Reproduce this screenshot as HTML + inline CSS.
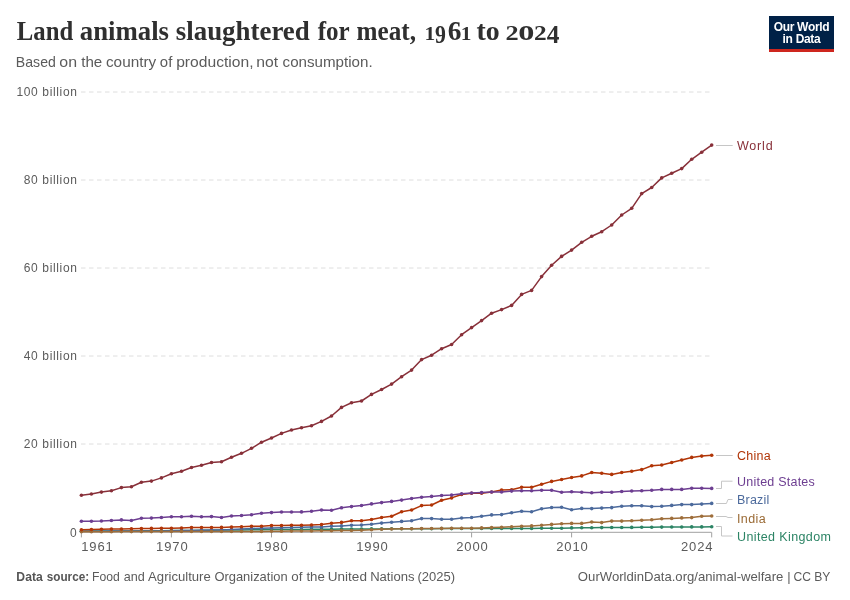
<!DOCTYPE html>
<html><head><meta charset="utf-8">
<style>
html,body{margin:0;padding:0;background:#fff;}
body{width:850px;height:600px;position:relative;overflow:hidden;font-family:"Liberation Sans",sans-serif;}
.title{will-change:transform;position:absolute;left:17px;top:18.5px;font-family:"Liberation Serif",serif;font-weight:bold;font-size:26.1px;color:#2f2f2f;white-space:nowrap;line-height:1;}
.sub{will-change:transform;position:absolute;left:16px;top:54px;font-size:14px;letter-spacing:0.48px;color:#5b5b5b;white-space:nowrap;line-height:1;}
.logo{will-change:transform;position:absolute;left:769px;top:16px;width:65px;height:36px;background:#002147;}
.logo .bar{position:absolute;left:0;bottom:0;width:65px;height:3px;background:#ce261e;}
.logo .t{position:absolute;left:0;width:65px;text-align:center;color:#fff;font-weight:bold;font-size:12px;line-height:1;letter-spacing:-0.3px;}
.foot{will-change:transform;position:absolute;top:570.6px;font-size:12.5px;letter-spacing:0.23px;color:#5b5b5b;white-space:nowrap;line-height:1;}
</style></head><body>
<div class="logo"><div class="t" style="top:5.3px">Our World</div><div class="t" style="top:17.1px">in Data</div><div class="bar"></div></div>
<svg width="850" height="600" viewBox="0 0 850 600" style="position:absolute;left:0;top:0;will-change:transform">
<line x1="81" x2="711" y1="92" y2="92" stroke="#dedede" stroke-width="1" stroke-dasharray="4.5,3.5"/>
<line x1="81" x2="711" y1="180" y2="180" stroke="#dedede" stroke-width="1" stroke-dasharray="4.5,3.5"/>
<line x1="81" x2="711" y1="268" y2="268" stroke="#dedede" stroke-width="1" stroke-dasharray="4.5,3.5"/>
<line x1="81" x2="711" y1="356" y2="356" stroke="#dedede" stroke-width="1" stroke-dasharray="4.5,3.5"/>
<line x1="81" x2="711" y1="444" y2="444" stroke="#dedede" stroke-width="1" stroke-dasharray="4.5,3.5"/>
<g font-family="Liberation Sans, sans-serif" font-size="12" fill="#5b5b5b" text-anchor="end">
<text x="77.6" y="96.0" style="letter-spacing:0.65px">100 billion</text>
<text x="77.6" y="184.0" style="letter-spacing:0.65px">80 billion</text>
<text x="77.6" y="272.0" style="letter-spacing:0.65px">60 billion</text>
<text x="77.6" y="360.0" style="letter-spacing:0.65px">40 billion</text>
<text x="77.6" y="448.0" style="letter-spacing:0.65px">20 billion</text>
<text x="76.6" y="536.8">0</text>
</g>
<line x1="81" x2="711.5" y1="532.3" y2="532.3" stroke="#a1a1a1" stroke-width="1"/>
<line x1="81.4" x2="81.4" y1="532.3" y2="537.4" stroke="#a1a1a1" stroke-width="1"/>
<line x1="171.4" x2="171.4" y1="532.3" y2="537.4" stroke="#a1a1a1" stroke-width="1"/>
<line x1="271.5" x2="271.5" y1="532.3" y2="537.4" stroke="#a1a1a1" stroke-width="1"/>
<line x1="371.5" x2="371.5" y1="532.3" y2="537.4" stroke="#a1a1a1" stroke-width="1"/>
<line x1="471.6" x2="471.6" y1="532.3" y2="537.4" stroke="#a1a1a1" stroke-width="1"/>
<line x1="571.6" x2="571.6" y1="532.3" y2="537.4" stroke="#a1a1a1" stroke-width="1"/>
<line x1="711.7" x2="711.7" y1="532.3" y2="537.4" stroke="#a1a1a1" stroke-width="1"/>
<g font-family="Liberation Sans, sans-serif" font-size="13" fill="#5b5b5b" style="letter-spacing:0.9px">
<text x="81.2" y="550.7">1961</text>
<text x="172.3" y="550.7" text-anchor="middle">1970</text>
<text x="272.4" y="550.7" text-anchor="middle">1980</text>
<text x="372.4" y="550.7" text-anchor="middle">1990</text>
<text x="472.5" y="550.7" text-anchor="middle">2000</text>
<text x="572.5" y="550.7" text-anchor="middle">2010</text>
<text x="713.5" y="550.7" text-anchor="end">2024</text>
</g>
<path d="M81.4,531.2L91.4,531.1L101.4,531.1L111.4,531.0L121.4,530.9L131.4,530.9L141.4,530.8L151.4,530.7L161.4,530.7L171.4,530.6L181.5,530.5L191.5,530.4L201.5,530.3L211.5,530.2L221.5,530.1L231.5,530.0L241.5,529.9L251.5,529.8L261.5,529.7L271.5,529.6L281.5,529.5L291.5,529.5L301.5,529.4L311.5,529.3L321.5,529.2L331.5,529.2L341.5,529.1L351.5,529.0L361.5,529.0L371.5,528.9L381.6,528.9L391.6,528.8L401.6,528.8L411.6,528.7L421.6,528.7L431.6,528.7L441.6,528.6L451.6,528.6L461.6,528.5L471.6,528.5L481.6,528.5L491.6,528.5L501.6,528.4L511.6,528.4L521.6,528.4L531.6,528.4L541.6,528.3L551.6,528.3L561.6,528.3L571.6,527.9L581.7,527.8L591.7,527.7L601.7,527.6L611.7,527.5L621.7,527.5L631.7,527.4L641.7,527.3L651.7,527.2L661.7,527.1L671.7,527.0L681.7,527.0L691.7,526.9L701.7,526.9L711.7,526.8" fill="none" stroke="#2c8465" stroke-width="1.5" stroke-linejoin="round"/>
<g fill="#2c8465"><circle cx="81.4" cy="531.2" r="1.8"/><circle cx="91.4" cy="531.1" r="1.8"/><circle cx="101.4" cy="531.1" r="1.8"/><circle cx="111.4" cy="531.0" r="1.8"/><circle cx="121.4" cy="530.9" r="1.8"/><circle cx="131.4" cy="530.9" r="1.8"/><circle cx="141.4" cy="530.8" r="1.8"/><circle cx="151.4" cy="530.7" r="1.8"/><circle cx="161.4" cy="530.7" r="1.8"/><circle cx="171.4" cy="530.6" r="1.8"/><circle cx="181.5" cy="530.5" r="1.8"/><circle cx="191.5" cy="530.4" r="1.8"/><circle cx="201.5" cy="530.3" r="1.8"/><circle cx="211.5" cy="530.2" r="1.8"/><circle cx="221.5" cy="530.1" r="1.8"/><circle cx="231.5" cy="530.0" r="1.8"/><circle cx="241.5" cy="529.9" r="1.8"/><circle cx="251.5" cy="529.8" r="1.8"/><circle cx="261.5" cy="529.7" r="1.8"/><circle cx="271.5" cy="529.6" r="1.8"/><circle cx="281.5" cy="529.5" r="1.8"/><circle cx="291.5" cy="529.5" r="1.8"/><circle cx="301.5" cy="529.4" r="1.8"/><circle cx="311.5" cy="529.3" r="1.8"/><circle cx="321.5" cy="529.2" r="1.8"/><circle cx="331.5" cy="529.2" r="1.8"/><circle cx="341.5" cy="529.1" r="1.8"/><circle cx="351.5" cy="529.0" r="1.8"/><circle cx="361.5" cy="529.0" r="1.8"/><circle cx="371.5" cy="528.9" r="1.8"/><circle cx="381.6" cy="528.9" r="1.8"/><circle cx="391.6" cy="528.8" r="1.8"/><circle cx="401.6" cy="528.8" r="1.8"/><circle cx="411.6" cy="528.7" r="1.8"/><circle cx="421.6" cy="528.7" r="1.8"/><circle cx="431.6" cy="528.7" r="1.8"/><circle cx="441.6" cy="528.6" r="1.8"/><circle cx="451.6" cy="528.6" r="1.8"/><circle cx="461.6" cy="528.5" r="1.8"/><circle cx="471.6" cy="528.5" r="1.8"/><circle cx="481.6" cy="528.5" r="1.8"/><circle cx="491.6" cy="528.5" r="1.8"/><circle cx="501.6" cy="528.4" r="1.8"/><circle cx="511.6" cy="528.4" r="1.8"/><circle cx="521.6" cy="528.4" r="1.8"/><circle cx="531.6" cy="528.4" r="1.8"/><circle cx="541.6" cy="528.3" r="1.8"/><circle cx="551.6" cy="528.3" r="1.8"/><circle cx="561.6" cy="528.3" r="1.8"/><circle cx="571.6" cy="527.9" r="1.8"/><circle cx="581.7" cy="527.8" r="1.8"/><circle cx="591.7" cy="527.7" r="1.8"/><circle cx="601.7" cy="527.6" r="1.8"/><circle cx="611.7" cy="527.5" r="1.8"/><circle cx="621.7" cy="527.5" r="1.8"/><circle cx="631.7" cy="527.4" r="1.8"/><circle cx="641.7" cy="527.3" r="1.8"/><circle cx="651.7" cy="527.2" r="1.8"/><circle cx="661.7" cy="527.1" r="1.8"/><circle cx="671.7" cy="527.0" r="1.8"/><circle cx="681.7" cy="527.0" r="1.8"/><circle cx="691.7" cy="526.9" r="1.8"/><circle cx="701.7" cy="526.9" r="1.8"/><circle cx="711.7" cy="526.8" r="1.8"/></g>
<path d="M81.4,531.3L91.4,531.2L101.4,531.2L111.4,531.1L121.4,531.1L131.4,531.0L141.4,531.0L151.4,530.9L161.4,530.9L171.4,530.8L181.5,530.6L191.5,530.4L201.5,530.3L211.5,530.1L221.5,529.9L231.5,529.4L241.5,529.0L251.5,528.5L261.5,528.2L271.5,528.0L281.5,527.8L291.5,527.6L301.5,527.3L311.5,527.1L321.5,527.0L331.5,526.3L341.5,525.9L351.5,525.3L361.5,525.1L371.5,524.3L381.6,523.1L391.6,522.3L401.6,521.4L411.6,520.8L421.6,518.6L431.6,518.6L441.6,519.2L451.6,519.2L461.6,518.0L471.6,517.5L481.6,516.3L491.6,514.9L501.6,514.6L511.6,512.7L521.6,511.2L531.6,511.7L541.6,508.8L551.6,507.5L561.6,507.3L571.6,509.7L581.7,508.4L591.7,508.6L601.7,508.1L611.7,507.6L621.7,506.2L631.7,505.7L641.7,505.7L651.7,506.6L661.7,506.2L671.7,505.4L681.7,504.6L691.7,504.6L701.7,504.1L711.7,503.4" fill="none" stroke="#4c6a9c" stroke-width="1.5" stroke-linejoin="round"/>
<g fill="#4c6a9c"><circle cx="81.4" cy="531.3" r="1.8"/><circle cx="91.4" cy="531.2" r="1.8"/><circle cx="101.4" cy="531.2" r="1.8"/><circle cx="111.4" cy="531.1" r="1.8"/><circle cx="121.4" cy="531.1" r="1.8"/><circle cx="131.4" cy="531.0" r="1.8"/><circle cx="141.4" cy="531.0" r="1.8"/><circle cx="151.4" cy="530.9" r="1.8"/><circle cx="161.4" cy="530.9" r="1.8"/><circle cx="171.4" cy="530.8" r="1.8"/><circle cx="181.5" cy="530.6" r="1.8"/><circle cx="191.5" cy="530.4" r="1.8"/><circle cx="201.5" cy="530.3" r="1.8"/><circle cx="211.5" cy="530.1" r="1.8"/><circle cx="221.5" cy="529.9" r="1.8"/><circle cx="231.5" cy="529.4" r="1.8"/><circle cx="241.5" cy="529.0" r="1.8"/><circle cx="251.5" cy="528.5" r="1.8"/><circle cx="261.5" cy="528.2" r="1.8"/><circle cx="271.5" cy="528.0" r="1.8"/><circle cx="281.5" cy="527.8" r="1.8"/><circle cx="291.5" cy="527.6" r="1.8"/><circle cx="301.5" cy="527.3" r="1.8"/><circle cx="311.5" cy="527.1" r="1.8"/><circle cx="321.5" cy="527.0" r="1.8"/><circle cx="331.5" cy="526.3" r="1.8"/><circle cx="341.5" cy="525.9" r="1.8"/><circle cx="351.5" cy="525.3" r="1.8"/><circle cx="361.5" cy="525.1" r="1.8"/><circle cx="371.5" cy="524.3" r="1.8"/><circle cx="381.6" cy="523.1" r="1.8"/><circle cx="391.6" cy="522.3" r="1.8"/><circle cx="401.6" cy="521.4" r="1.8"/><circle cx="411.6" cy="520.8" r="1.8"/><circle cx="421.6" cy="518.6" r="1.8"/><circle cx="431.6" cy="518.6" r="1.8"/><circle cx="441.6" cy="519.2" r="1.8"/><circle cx="451.6" cy="519.2" r="1.8"/><circle cx="461.6" cy="518.0" r="1.8"/><circle cx="471.6" cy="517.5" r="1.8"/><circle cx="481.6" cy="516.3" r="1.8"/><circle cx="491.6" cy="514.9" r="1.8"/><circle cx="501.6" cy="514.6" r="1.8"/><circle cx="511.6" cy="512.7" r="1.8"/><circle cx="521.6" cy="511.2" r="1.8"/><circle cx="531.6" cy="511.7" r="1.8"/><circle cx="541.6" cy="508.8" r="1.8"/><circle cx="551.6" cy="507.5" r="1.8"/><circle cx="561.6" cy="507.3" r="1.8"/><circle cx="571.6" cy="509.7" r="1.8"/><circle cx="581.7" cy="508.4" r="1.8"/><circle cx="591.7" cy="508.6" r="1.8"/><circle cx="601.7" cy="508.1" r="1.8"/><circle cx="611.7" cy="507.6" r="1.8"/><circle cx="621.7" cy="506.2" r="1.8"/><circle cx="631.7" cy="505.7" r="1.8"/><circle cx="641.7" cy="505.7" r="1.8"/><circle cx="651.7" cy="506.6" r="1.8"/><circle cx="661.7" cy="506.2" r="1.8"/><circle cx="671.7" cy="505.4" r="1.8"/><circle cx="681.7" cy="504.6" r="1.8"/><circle cx="691.7" cy="504.6" r="1.8"/><circle cx="701.7" cy="504.1" r="1.8"/><circle cx="711.7" cy="503.4" r="1.8"/></g>
<path d="M81.4,531.7L91.4,531.7L101.4,531.7L111.4,531.7L121.4,531.6L131.4,531.6L141.4,531.6L151.4,531.6L161.4,531.6L171.4,531.5L181.5,531.5L191.5,531.5L201.5,531.5L211.5,531.5L221.5,531.5L231.5,531.5L241.5,531.4L251.5,531.4L261.5,531.4L271.5,531.3L281.5,531.2L291.5,531.1L301.5,531.0L311.5,530.9L321.5,530.8L331.5,530.7L341.5,530.6L351.5,530.5L361.5,530.2L371.5,529.8L381.6,529.2L391.6,529.0L401.6,528.8L411.6,528.7L421.6,528.6L431.6,528.5L441.6,528.4L451.6,528.3L461.6,528.2L471.6,528.2L481.6,527.9L491.6,527.6L501.6,527.2L511.6,526.7L521.6,526.3L531.6,525.9L541.6,525.3L551.6,524.4L561.6,523.8L571.6,523.4L581.7,523.4L591.7,522.0L601.7,522.6L611.7,521.1L621.7,521.1L631.7,520.7L641.7,520.3L651.7,519.8L661.7,518.8L671.7,518.4L681.7,517.9L691.7,517.6L701.7,516.3L711.7,516.0" fill="none" stroke="#9e6e3b" stroke-width="1.5" stroke-linejoin="round"/>
<g fill="#9e6e3b"><circle cx="81.4" cy="531.7" r="1.8"/><circle cx="91.4" cy="531.7" r="1.8"/><circle cx="101.4" cy="531.7" r="1.8"/><circle cx="111.4" cy="531.7" r="1.8"/><circle cx="121.4" cy="531.6" r="1.8"/><circle cx="131.4" cy="531.6" r="1.8"/><circle cx="141.4" cy="531.6" r="1.8"/><circle cx="151.4" cy="531.6" r="1.8"/><circle cx="161.4" cy="531.6" r="1.8"/><circle cx="171.4" cy="531.5" r="1.8"/><circle cx="181.5" cy="531.5" r="1.8"/><circle cx="191.5" cy="531.5" r="1.8"/><circle cx="201.5" cy="531.5" r="1.8"/><circle cx="211.5" cy="531.5" r="1.8"/><circle cx="221.5" cy="531.5" r="1.8"/><circle cx="231.5" cy="531.5" r="1.8"/><circle cx="241.5" cy="531.4" r="1.8"/><circle cx="251.5" cy="531.4" r="1.8"/><circle cx="261.5" cy="531.4" r="1.8"/><circle cx="271.5" cy="531.3" r="1.8"/><circle cx="281.5" cy="531.2" r="1.8"/><circle cx="291.5" cy="531.1" r="1.8"/><circle cx="301.5" cy="531.0" r="1.8"/><circle cx="311.5" cy="530.9" r="1.8"/><circle cx="321.5" cy="530.8" r="1.8"/><circle cx="331.5" cy="530.7" r="1.8"/><circle cx="341.5" cy="530.6" r="1.8"/><circle cx="351.5" cy="530.5" r="1.8"/><circle cx="361.5" cy="530.2" r="1.8"/><circle cx="371.5" cy="529.8" r="1.8"/><circle cx="381.6" cy="529.2" r="1.8"/><circle cx="391.6" cy="529.0" r="1.8"/><circle cx="401.6" cy="528.8" r="1.8"/><circle cx="411.6" cy="528.7" r="1.8"/><circle cx="421.6" cy="528.6" r="1.8"/><circle cx="431.6" cy="528.5" r="1.8"/><circle cx="441.6" cy="528.4" r="1.8"/><circle cx="451.6" cy="528.3" r="1.8"/><circle cx="461.6" cy="528.2" r="1.8"/><circle cx="471.6" cy="528.2" r="1.8"/><circle cx="481.6" cy="527.9" r="1.8"/><circle cx="491.6" cy="527.6" r="1.8"/><circle cx="501.6" cy="527.2" r="1.8"/><circle cx="511.6" cy="526.7" r="1.8"/><circle cx="521.6" cy="526.3" r="1.8"/><circle cx="531.6" cy="525.9" r="1.8"/><circle cx="541.6" cy="525.3" r="1.8"/><circle cx="551.6" cy="524.4" r="1.8"/><circle cx="561.6" cy="523.8" r="1.8"/><circle cx="571.6" cy="523.4" r="1.8"/><circle cx="581.7" cy="523.4" r="1.8"/><circle cx="591.7" cy="522.0" r="1.8"/><circle cx="601.7" cy="522.6" r="1.8"/><circle cx="611.7" cy="521.1" r="1.8"/><circle cx="621.7" cy="521.1" r="1.8"/><circle cx="631.7" cy="520.7" r="1.8"/><circle cx="641.7" cy="520.3" r="1.8"/><circle cx="651.7" cy="519.8" r="1.8"/><circle cx="661.7" cy="518.8" r="1.8"/><circle cx="671.7" cy="518.4" r="1.8"/><circle cx="681.7" cy="517.9" r="1.8"/><circle cx="691.7" cy="517.6" r="1.8"/><circle cx="701.7" cy="516.3" r="1.8"/><circle cx="711.7" cy="516.0" r="1.8"/></g>
<path d="M81.4,529.7L91.4,529.5L101.4,529.3L111.4,529.1L121.4,529.0L131.4,528.8L141.4,528.6L151.4,528.4L161.4,528.3L171.4,528.2L181.5,528.0L191.5,527.6L201.5,527.5L211.5,527.5L221.5,527.4L231.5,527.1L241.5,526.8L251.5,526.3L261.5,526.2L271.5,525.6L281.5,525.6L291.5,525.3L301.5,525.3L311.5,525.0L321.5,524.6L331.5,523.3L341.5,522.4L351.5,520.8L361.5,520.8L371.5,519.5L381.6,517.5L391.6,516.2L401.6,511.7L411.6,510.0L421.6,505.6L431.6,505.0L441.6,500.3L451.6,497.9L461.6,494.5L471.6,493.2L481.6,493.3L491.6,492.0L501.6,490.0L511.6,489.7L521.6,487.2L531.6,487.2L541.6,484.2L551.6,481.4L561.6,479.5L571.6,477.5L581.7,475.9L591.7,472.5L601.7,473.2L611.7,474.4L621.7,472.5L631.7,471.2L641.7,469.6L651.7,465.8L661.7,465.0L671.7,462.5L681.7,460.0L691.7,457.4L701.7,456.1L711.7,455.2" fill="none" stroke="#b13507" stroke-width="1.5" stroke-linejoin="round"/>
<g fill="#b13507"><circle cx="81.4" cy="529.7" r="1.8"/><circle cx="91.4" cy="529.5" r="1.8"/><circle cx="101.4" cy="529.3" r="1.8"/><circle cx="111.4" cy="529.1" r="1.8"/><circle cx="121.4" cy="529.0" r="1.8"/><circle cx="131.4" cy="528.8" r="1.8"/><circle cx="141.4" cy="528.6" r="1.8"/><circle cx="151.4" cy="528.4" r="1.8"/><circle cx="161.4" cy="528.3" r="1.8"/><circle cx="171.4" cy="528.2" r="1.8"/><circle cx="181.5" cy="528.0" r="1.8"/><circle cx="191.5" cy="527.6" r="1.8"/><circle cx="201.5" cy="527.5" r="1.8"/><circle cx="211.5" cy="527.5" r="1.8"/><circle cx="221.5" cy="527.4" r="1.8"/><circle cx="231.5" cy="527.1" r="1.8"/><circle cx="241.5" cy="526.8" r="1.8"/><circle cx="251.5" cy="526.3" r="1.8"/><circle cx="261.5" cy="526.2" r="1.8"/><circle cx="271.5" cy="525.6" r="1.8"/><circle cx="281.5" cy="525.6" r="1.8"/><circle cx="291.5" cy="525.3" r="1.8"/><circle cx="301.5" cy="525.3" r="1.8"/><circle cx="311.5" cy="525.0" r="1.8"/><circle cx="321.5" cy="524.6" r="1.8"/><circle cx="331.5" cy="523.3" r="1.8"/><circle cx="341.5" cy="522.4" r="1.8"/><circle cx="351.5" cy="520.8" r="1.8"/><circle cx="361.5" cy="520.8" r="1.8"/><circle cx="371.5" cy="519.5" r="1.8"/><circle cx="381.6" cy="517.5" r="1.8"/><circle cx="391.6" cy="516.2" r="1.8"/><circle cx="401.6" cy="511.7" r="1.8"/><circle cx="411.6" cy="510.0" r="1.8"/><circle cx="421.6" cy="505.6" r="1.8"/><circle cx="431.6" cy="505.0" r="1.8"/><circle cx="441.6" cy="500.3" r="1.8"/><circle cx="451.6" cy="497.9" r="1.8"/><circle cx="461.6" cy="494.5" r="1.8"/><circle cx="471.6" cy="493.2" r="1.8"/><circle cx="481.6" cy="493.3" r="1.8"/><circle cx="491.6" cy="492.0" r="1.8"/><circle cx="501.6" cy="490.0" r="1.8"/><circle cx="511.6" cy="489.7" r="1.8"/><circle cx="521.6" cy="487.2" r="1.8"/><circle cx="531.6" cy="487.2" r="1.8"/><circle cx="541.6" cy="484.2" r="1.8"/><circle cx="551.6" cy="481.4" r="1.8"/><circle cx="561.6" cy="479.5" r="1.8"/><circle cx="571.6" cy="477.5" r="1.8"/><circle cx="581.7" cy="475.9" r="1.8"/><circle cx="591.7" cy="472.5" r="1.8"/><circle cx="601.7" cy="473.2" r="1.8"/><circle cx="611.7" cy="474.4" r="1.8"/><circle cx="621.7" cy="472.5" r="1.8"/><circle cx="631.7" cy="471.2" r="1.8"/><circle cx="641.7" cy="469.6" r="1.8"/><circle cx="651.7" cy="465.8" r="1.8"/><circle cx="661.7" cy="465.0" r="1.8"/><circle cx="671.7" cy="462.5" r="1.8"/><circle cx="681.7" cy="460.0" r="1.8"/><circle cx="691.7" cy="457.4" r="1.8"/><circle cx="701.7" cy="456.1" r="1.8"/><circle cx="711.7" cy="455.2" r="1.8"/></g>
<path d="M81.4,521.2L91.4,521.2L101.4,521.0L111.4,520.5L121.4,519.9L131.4,520.5L141.4,518.2L151.4,518.1L161.4,517.5L171.4,516.8L181.5,516.8L191.5,516.3L201.5,516.8L211.5,516.6L221.5,517.5L231.5,516.0L241.5,515.5L251.5,514.7L261.5,513.3L271.5,512.6L281.5,512.0L291.5,512.0L301.5,511.9L311.5,511.2L321.5,510.0L331.5,510.3L341.5,507.8L351.5,506.6L361.5,505.5L371.5,503.9L381.6,502.6L391.6,501.4L401.6,500.1L411.6,498.5L421.6,497.2L431.6,496.4L441.6,495.5L451.6,495.1L461.6,493.8L471.6,493.0L481.6,492.6L491.6,492.0L501.6,492.0L511.6,491.1L521.6,490.7L531.6,490.7L541.6,490.3L551.6,490.3L561.6,492.2L571.6,491.8L581.7,492.2L591.7,492.7L601.7,492.2L611.7,492.2L621.7,491.5L631.7,491.0L641.7,490.7L651.7,490.3L661.7,489.4L671.7,489.4L681.7,489.4L691.7,488.3L701.7,488.3L711.7,488.4" fill="none" stroke="#6d3e91" stroke-width="1.5" stroke-linejoin="round"/>
<g fill="#6d3e91"><circle cx="81.4" cy="521.2" r="1.8"/><circle cx="91.4" cy="521.2" r="1.8"/><circle cx="101.4" cy="521.0" r="1.8"/><circle cx="111.4" cy="520.5" r="1.8"/><circle cx="121.4" cy="519.9" r="1.8"/><circle cx="131.4" cy="520.5" r="1.8"/><circle cx="141.4" cy="518.2" r="1.8"/><circle cx="151.4" cy="518.1" r="1.8"/><circle cx="161.4" cy="517.5" r="1.8"/><circle cx="171.4" cy="516.8" r="1.8"/><circle cx="181.5" cy="516.8" r="1.8"/><circle cx="191.5" cy="516.3" r="1.8"/><circle cx="201.5" cy="516.8" r="1.8"/><circle cx="211.5" cy="516.6" r="1.8"/><circle cx="221.5" cy="517.5" r="1.8"/><circle cx="231.5" cy="516.0" r="1.8"/><circle cx="241.5" cy="515.5" r="1.8"/><circle cx="251.5" cy="514.7" r="1.8"/><circle cx="261.5" cy="513.3" r="1.8"/><circle cx="271.5" cy="512.6" r="1.8"/><circle cx="281.5" cy="512.0" r="1.8"/><circle cx="291.5" cy="512.0" r="1.8"/><circle cx="301.5" cy="511.9" r="1.8"/><circle cx="311.5" cy="511.2" r="1.8"/><circle cx="321.5" cy="510.0" r="1.8"/><circle cx="331.5" cy="510.3" r="1.8"/><circle cx="341.5" cy="507.8" r="1.8"/><circle cx="351.5" cy="506.6" r="1.8"/><circle cx="361.5" cy="505.5" r="1.8"/><circle cx="371.5" cy="503.9" r="1.8"/><circle cx="381.6" cy="502.6" r="1.8"/><circle cx="391.6" cy="501.4" r="1.8"/><circle cx="401.6" cy="500.1" r="1.8"/><circle cx="411.6" cy="498.5" r="1.8"/><circle cx="421.6" cy="497.2" r="1.8"/><circle cx="431.6" cy="496.4" r="1.8"/><circle cx="441.6" cy="495.5" r="1.8"/><circle cx="451.6" cy="495.1" r="1.8"/><circle cx="461.6" cy="493.8" r="1.8"/><circle cx="471.6" cy="493.0" r="1.8"/><circle cx="481.6" cy="492.6" r="1.8"/><circle cx="491.6" cy="492.0" r="1.8"/><circle cx="501.6" cy="492.0" r="1.8"/><circle cx="511.6" cy="491.1" r="1.8"/><circle cx="521.6" cy="490.7" r="1.8"/><circle cx="531.6" cy="490.7" r="1.8"/><circle cx="541.6" cy="490.3" r="1.8"/><circle cx="551.6" cy="490.3" r="1.8"/><circle cx="561.6" cy="492.2" r="1.8"/><circle cx="571.6" cy="491.8" r="1.8"/><circle cx="581.7" cy="492.2" r="1.8"/><circle cx="591.7" cy="492.7" r="1.8"/><circle cx="601.7" cy="492.2" r="1.8"/><circle cx="611.7" cy="492.2" r="1.8"/><circle cx="621.7" cy="491.5" r="1.8"/><circle cx="631.7" cy="491.0" r="1.8"/><circle cx="641.7" cy="490.7" r="1.8"/><circle cx="651.7" cy="490.3" r="1.8"/><circle cx="661.7" cy="489.4" r="1.8"/><circle cx="671.7" cy="489.4" r="1.8"/><circle cx="681.7" cy="489.4" r="1.8"/><circle cx="691.7" cy="488.3" r="1.8"/><circle cx="701.7" cy="488.3" r="1.8"/><circle cx="711.7" cy="488.4" r="1.8"/></g>
<path d="M81.4,495.3L91.4,494.0L101.4,492.1L111.4,490.7L121.4,487.6L131.4,486.7L141.4,482.3L151.4,481.1L161.4,477.9L171.4,473.8L181.5,471.3L191.5,467.5L201.5,465.3L211.5,462.5L221.5,461.7L231.5,457.2L241.5,453.3L251.5,448.3L261.5,442.2L271.5,438.0L281.5,433.4L291.5,430.0L301.5,427.8L311.5,425.8L321.5,421.4L331.5,416.0L341.5,407.4L351.5,402.8L361.5,401.0L371.5,394.4L381.6,389.5L391.6,384.1L401.6,376.7L411.6,370.1L421.6,359.6L431.6,355.2L441.6,348.7L451.6,344.5L461.6,334.7L471.6,327.6L481.6,320.6L491.6,313.2L501.6,309.6L511.6,305.4L521.6,294.4L531.6,290.4L541.6,276.6L551.6,265.2L561.6,256.4L571.6,250.1L581.7,242.3L591.7,236.3L601.7,231.7L611.7,225.0L621.7,215.0L631.7,208.3L641.7,193.6L651.7,187.5L661.7,177.9L671.7,173.2L681.7,168.6L691.7,159.3L701.7,152.2L711.7,145.1" fill="none" stroke="#883039" stroke-width="1.5" stroke-linejoin="round"/>
<g fill="#883039"><circle cx="81.4" cy="495.3" r="1.8"/><circle cx="91.4" cy="494.0" r="1.8"/><circle cx="101.4" cy="492.1" r="1.8"/><circle cx="111.4" cy="490.7" r="1.8"/><circle cx="121.4" cy="487.6" r="1.8"/><circle cx="131.4" cy="486.7" r="1.8"/><circle cx="141.4" cy="482.3" r="1.8"/><circle cx="151.4" cy="481.1" r="1.8"/><circle cx="161.4" cy="477.9" r="1.8"/><circle cx="171.4" cy="473.8" r="1.8"/><circle cx="181.5" cy="471.3" r="1.8"/><circle cx="191.5" cy="467.5" r="1.8"/><circle cx="201.5" cy="465.3" r="1.8"/><circle cx="211.5" cy="462.5" r="1.8"/><circle cx="221.5" cy="461.7" r="1.8"/><circle cx="231.5" cy="457.2" r="1.8"/><circle cx="241.5" cy="453.3" r="1.8"/><circle cx="251.5" cy="448.3" r="1.8"/><circle cx="261.5" cy="442.2" r="1.8"/><circle cx="271.5" cy="438.0" r="1.8"/><circle cx="281.5" cy="433.4" r="1.8"/><circle cx="291.5" cy="430.0" r="1.8"/><circle cx="301.5" cy="427.8" r="1.8"/><circle cx="311.5" cy="425.8" r="1.8"/><circle cx="321.5" cy="421.4" r="1.8"/><circle cx="331.5" cy="416.0" r="1.8"/><circle cx="341.5" cy="407.4" r="1.8"/><circle cx="351.5" cy="402.8" r="1.8"/><circle cx="361.5" cy="401.0" r="1.8"/><circle cx="371.5" cy="394.4" r="1.8"/><circle cx="381.6" cy="389.5" r="1.8"/><circle cx="391.6" cy="384.1" r="1.8"/><circle cx="401.6" cy="376.7" r="1.8"/><circle cx="411.6" cy="370.1" r="1.8"/><circle cx="421.6" cy="359.6" r="1.8"/><circle cx="431.6" cy="355.2" r="1.8"/><circle cx="441.6" cy="348.7" r="1.8"/><circle cx="451.6" cy="344.5" r="1.8"/><circle cx="461.6" cy="334.7" r="1.8"/><circle cx="471.6" cy="327.6" r="1.8"/><circle cx="481.6" cy="320.6" r="1.8"/><circle cx="491.6" cy="313.2" r="1.8"/><circle cx="501.6" cy="309.6" r="1.8"/><circle cx="511.6" cy="305.4" r="1.8"/><circle cx="521.6" cy="294.4" r="1.8"/><circle cx="531.6" cy="290.4" r="1.8"/><circle cx="541.6" cy="276.6" r="1.8"/><circle cx="551.6" cy="265.2" r="1.8"/><circle cx="561.6" cy="256.4" r="1.8"/><circle cx="571.6" cy="250.1" r="1.8"/><circle cx="581.7" cy="242.3" r="1.8"/><circle cx="591.7" cy="236.3" r="1.8"/><circle cx="601.7" cy="231.7" r="1.8"/><circle cx="611.7" cy="225.0" r="1.8"/><circle cx="621.7" cy="215.0" r="1.8"/><circle cx="631.7" cy="208.3" r="1.8"/><circle cx="641.7" cy="193.6" r="1.8"/><circle cx="651.7" cy="187.5" r="1.8"/><circle cx="661.7" cy="177.9" r="1.8"/><circle cx="671.7" cy="173.2" r="1.8"/><circle cx="681.7" cy="168.6" r="1.8"/><circle cx="691.7" cy="159.3" r="1.8"/><circle cx="701.7" cy="152.2" r="1.8"/><circle cx="711.7" cy="145.1" r="1.8"/></g>
<g fill="none" stroke="#c6c6c6" stroke-width="1">
<path d="M716,145.5H732.7"/>
<path d="M716,455.5H732.7"/>
<path d="M716,488.5H721.5V481.2H732.5"/>
<path d="M716,503.5H726.4L728,499.5H732.5"/>
<path d="M716,516.5H726L728,517.5H732.5"/>
<path d="M716,526.5H721.5V536H732.5"/>
</g>
<g font-family="Liberation Sans, sans-serif" font-size="12.5">
<text x="737.0" y="149.9" fill="#883039" style="letter-spacing:0.80px">World</text>
<text x="737.0" y="459.9" fill="#b13507" style="letter-spacing:0.25px">China</text>
<text x="737.0" y="485.9" fill="#6d3e91" style="letter-spacing:0.23px">United States</text>
<text x="737.0" y="504.4" fill="#4c6a9c" style="letter-spacing:0.20px">Brazil</text>
<text x="737.0" y="522.8" fill="#9a6a35" style="letter-spacing:0.37px">India</text>
<text x="737.0" y="540.9" fill="#2c8465" style="letter-spacing:0.38px">United Kingdom</text>
</g>
<g font-family="Liberation Serif, serif" font-weight="bold" fill="#2f2f2f">
<text font-size="26.6" transform="translate(16.84,40.10) scale(0.9289,1)">Land</text>
<text font-size="26.6" transform="translate(79.74,40.10) scale(1.0074,1)">animals</text>
<text font-size="26.6" transform="translate(175.74,40.10) scale(1.0114,1)">slaughtered</text>
<text font-size="26.6" transform="translate(317.66,40.10) scale(0.9424,1)">for</text>
<text font-size="26.6" transform="translate(356.59,40.10) scale(0.9459,1)">meat,</text>
<text font-size="26.6" transform="translate(476.48,40.10) scale(1.0458,1)">to</text>
<text font-size="19.82" transform="translate(424.56,40.20) scale(1.0804,1)">1</text>
<text font-size="24.16" transform="translate(434.97,43.07) scale(0.9026,1)">9</text>
<text font-size="26.70" transform="translate(447.75,40.04) scale(1.0255,1)">6</text>
<text font-size="19.82" transform="translate(460.86,40.20) scale(1.0804,1)">1</text>
<text font-size="19.97" transform="translate(505.59,40.20) scale(1.3187,1)">2</text>
<text font-size="28.81" transform="translate(518.16,40.12) scale(1.1199,1)">o</text>
<text font-size="19.97" transform="translate(534.03,40.20) scale(1.2712,1)">2</text>
<text font-size="25.12" transform="translate(546.76,43.40) scale(1.0095,1)">4</text>
</g>
<g font-family="Liberation Sans" font-weight="normal" font-size="14" fill="#5b5b5b" ><text transform="translate(15.84,66.50) scale(1.0080,1)">Based</text><text transform="translate(59.33,66.50) scale(1.1368,1)">on</text><text transform="translate(81.23,66.50) scale(1.0811,1)">the</text><text transform="translate(105.95,66.50) scale(1.0961,1)">country</text><text transform="translate(159.87,66.50) scale(1.0667,1)">of</text><text transform="translate(176.18,66.50) scale(1.1179,1)">production,</text><text transform="translate(256.28,66.50) scale(1.1233,1)">not</text><text transform="translate(282.56,66.50) scale(1.0822,1)">consumption.</text></g>
<g font-family="Liberation Sans" font-weight="bold" font-size="12.5" fill="#555555" ><text transform="translate(16.37,580.60) scale(0.9736,1)">Data</text><text transform="translate(46.73,580.60) scale(0.9402,1)">source:</text></g>
<g font-family="Liberation Sans" font-weight="normal" font-size="12.5" fill="#5b5b5b" ><text transform="translate(92.12,580.60) scale(0.9757,1)">Food</text><text transform="translate(123.69,580.60) scale(1.0103,1)">and</text><text transform="translate(148.10,580.60) scale(1.0498,1)">Agriculture</text><text transform="translate(214.38,580.60) scale(1.0345,1)">Organization</text><text transform="translate(291.36,580.60) scale(1.0700,1)">of</text><text transform="translate(306.43,580.60) scale(1.0606,1)">the</text><text transform="translate(327.82,580.60) scale(1.0832,1)">United</text><text transform="translate(370.15,580.60) scale(1.0463,1)">Nations</text><text transform="translate(417.42,580.60) scale(1.0406,1)">(2025)</text><text transform="translate(577.87,580.60) scale(1.0506,1)">OurWorldinData.org/animal-welfare</text><text transform="translate(787.26,580.60) scale(1.0400,1)">|</text><text transform="translate(793.57,580.60) scale(0.9672,1)">CC</text><text transform="translate(814.13,580.60) scale(0.9705,1)">BY</text></g>
</svg>
</body></html>
